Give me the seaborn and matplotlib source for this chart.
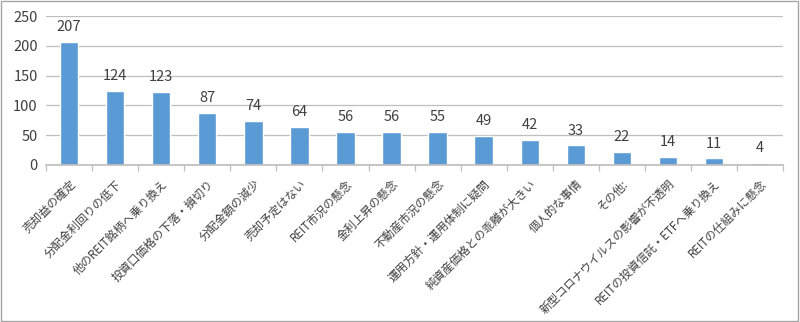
import matplotlib
matplotlib.use("Agg")
import matplotlib.pyplot as plt
import seaborn as sns
import pandas as pd
import numpy as np
from matplotlib.patches import Rectangle

categories = ["売却益の確定", "分配金利回りの低下", "他のREIT銘柄へ乗り換え", "投資口価格の下落・損切り",
              "分配金額の減少", "売却予定はない", "REIT市況の懸念", "金利上昇の懸念", "不動産市況の懸念",
              "運用方針・運用体制に疑問", "純資産価格との乖離が大きい", "個人的な事情", "その他:",
              "新型コロナウイルスの影響が不透明", "REITの投資信託・ETFへ乗り換え", "REITの仕組みに懸念"]
values = [207, 124, 123, 87, 74, 64, 56, 56, 55, 49, 42, 33, 22, 14, 11, 4]
yticks = [0, 50, 100, 150, 200, 250]

sns.set_theme(style="white")
plt.rcParams['font.family'] = ['Noto Sans CJK JP', 'DejaVu Sans']

df = pd.DataFrame({"cat": categories, "val": values})
fig = plt.figure(figsize=(8, 3.22), dpi=100)
ax = fig.add_axes([0.0575, 0.4876, 0.9215, 0.4627])
sns.barplot(data=df, x="cat", y="val", color="#5B9BD5", saturation=1, width=0.4, ax=ax)

ax.set_ylim(0, 250)
ax.set_yticks(yticks)
ax.set_yticklabels([str(t) for t in yticks], fontsize=10.5, color="#404040")
ax.yaxis.grid(True, color="#BFBFBF", linewidth=0.9)
ax.set_axisbelow(True)
ax.set_xlim(-0.5, len(categories) - 0.5)
ax.set_xlabel("")
ax.set_ylabel("")
for s in ["top", "right", "left"]:
    ax.spines[s].set_visible(False)
ax.spines["bottom"].set_color("#BFBFBF")
ax.set_xticks(range(len(categories)))
ax.set_xticklabels(categories, rotation=45, ha="right", va="top", rotation_mode="anchor",
                   fontsize=8.3, color="#404040")
ax.set_xticks(np.arange(-0.5, len(categories), 1.0), minor=True)
ax.tick_params(axis="y", length=0, pad=6)
ax.tick_params(axis="x", which="major", length=0, pad=9)
ax.tick_params(axis="x", which="minor", length=4, color="#BFBFBF", width=0.9, bottom=True)

for i, v in enumerate(values):
    ax.text(i, v + 13, str(v), ha="center", va="bottom", fontsize=10.5, color="#404040")

fig.patches.append(Rectangle((0.001, 0.002), 0.997, 0.995, transform=fig.transFigure,
                             fill=False, edgecolor="#A6A6A6", linewidth=1))
fig.savefig("out.png", dpi=100)
